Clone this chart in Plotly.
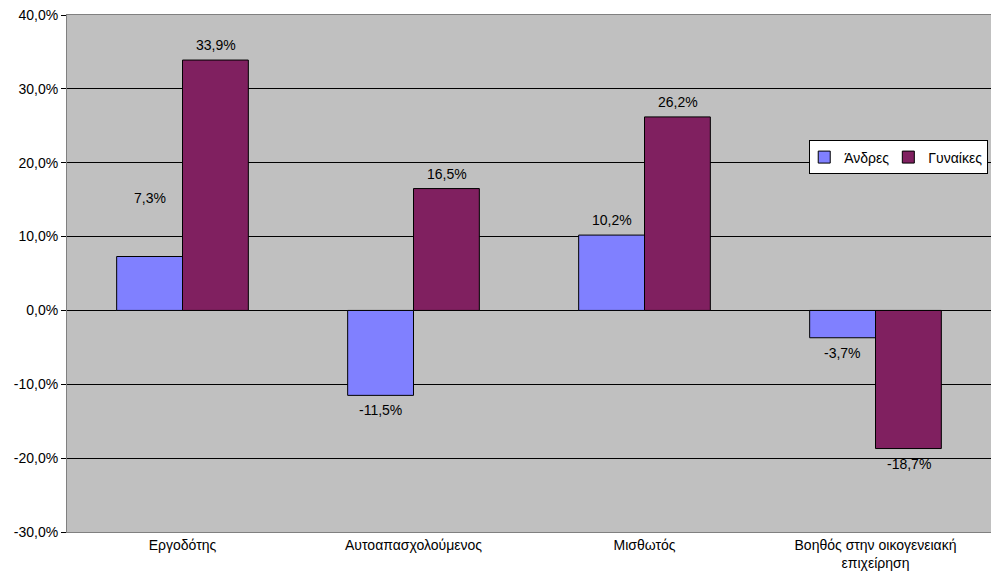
import plotly.graph_objects as go

categories = ["Εργοδότης", "Αυτοαπασχολούμενος", "Μισθωτός", "Βοηθός στην οικογενειακή<br>επιχείρηση"]
men = [7.3, -11.5, 10.2, -3.7]
women = [33.9, 16.5, 26.2, -18.7]
y_ticks = [-30, -20, -10, 0, 10, 20, 30, 40]
y_tick_labels = ["-30,0%", "-20,0%", "-10,0%", "0,0%", "10,0%", "20,0%", "30,0%", "40,0%"]

FS = 14
font = dict(family="Liberation Sans, Arial, sans-serif", size=FS, color="black")
colors = {"Άνδρες": "#8080FF", "Γυναίκες": "#802060"}
# manual label lift for the one label Excel placed higher
extra_lift = {("Άνδρες", 0): 44}

fig = go.Figure()
for name, vals in (("Άνδρες", men), ("Γυναίκες", women)):
    fig.add_trace(go.Bar(
        x=categories, y=vals, name=name,
        marker=dict(color=colors[name], line=dict(color="black", width=1)),
    ))

annotations = []
for si, (name, vals) in enumerate((("Άνδρες", men), ("Γυναίκες", women))):
    xshift = -33 if si == 0 else 33
    for i, v in enumerate(vals):
        base = 15 if v >= 0 else -15
        lift = extra_lift.get((name, i), 0)
        annotations.append(dict(
            x=categories[i], y=v, xref="x", yref="y",
            text=f"{v:.1f}%".replace(".", ","),
            showarrow=False, xshift=xshift, yshift=base + lift,
            xanchor="center", yanchor="middle", font=font,
        ))

fig.update_layout(
    width=991, height=578,
    margin=dict(l=59, r=8, t=7, b=54, autoexpand=False),
    paper_bgcolor="white", plot_bgcolor="#C0C0C0",
    barmode="group", bargap=0.43, bargroupgap=0,
    font=font,
    showlegend=True,
    legend=dict(
        orientation="h", x=0.997, y=0.7244, xanchor="right", yanchor="middle",
        bgcolor="white", bordercolor="black", borderwidth=1,
        font=font, itemwidth=30, traceorder="normal", indentation=-6,
    ),
    annotations=annotations,
)
fig.update_yaxes(
    range=[-30, 40], tickvals=y_ticks, ticktext=y_tick_labels,
    showgrid=True, gridcolor="#000000", gridwidth=1,
    zeroline=True, zerolinecolor="#000000", zerolinewidth=1,
    showline=True, linecolor="#808080", linewidth=1, mirror=True,
    ticks="outside", ticklen=5, tickcolor="black",
    tickfont=font, ticklabeloverflow="allow",
)
fig.update_xaxes(
    showline=True, linecolor="#808080", linewidth=1, mirror=True,
    showgrid=False, ticks="", tickfont=font, ticklabeloverflow="allow",
)
fig.write_html("out.html")
